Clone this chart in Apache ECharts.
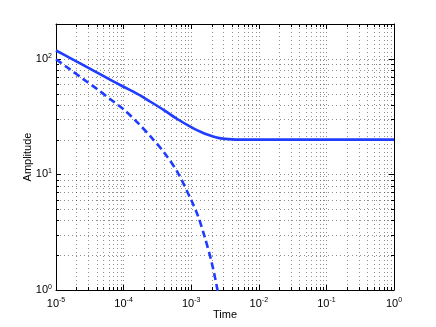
<!doctype html>
<html>
<head>
    <title>Amplitude vs Time</title>
    <script src="https://cdn.jsdelivr.net/npm/echarts@6/dist/echarts.min.js"></script>
</head>
<body style="margin:0;">
<div id="chart" style="width: 436px; height: 327px;"></div>
<script type="text/javascript">

    // time samples (log spaced)
    var times = [1e-5, 1.6e-5, 2.5e-5, 4e-5, 6.3e-5, 1e-4, 1.6e-4, 2.5e-4, 4e-4, 6.3e-4,
                 1e-3, 1.26e-3, 1.6e-3, 2e-3, 2.5e-3, 3.2e-3, 4e-3, 5e-3, 6.3e-3,
                 1e-2, 1e-1, 1];
    // solid curve
    var total = [118, 101.8, 88.5, 76.4, 66, 57.3, 49.7, 42.5, 35.8, 30,
                 25.6, 23.9, 22.5, 21.5, 20.7, 20.3, 20.1, 20, 20,
                 20, 20, 20];
    // dashed curve (drops out below the axis)
    var transient = [99, 81.3, 67.1, 55, 44.9, 36.5, 28.2, 21.3, 15.4, 10.4,
                     6.0, 4.37, 2.82, 1.75, 0.94, 0.4, null, null, null,
                     null, null, null];
    var minorSteps = [2, 3, 4, 5, 6, 7, 8, 9];
    var xDecades = [-5, -4, -3, -2, -1];
    var yDecades = [0, 1];

    var font = 'Liberation Sans';
    var blue = '#1f3cff';

    function pairs(xs, ys) {
        var out = [];
        for (var i = 0; i < xs.length; i++) {
            if (ys[i] != null) out.push([xs[i], ys[i]]);
        }
        return out;
    }

    // minor grid: [x, y, kind]  kind 0 = vertical line, 1 = horizontal line
    var minorData = [];
    xDecades.forEach(function (e) {
        minorSteps.forEach(function (k) { minorData.push([k * Math.pow(10, e), 1, 0]); });
    });
    yDecades.forEach(function (e) {
        minorSteps.forEach(function (k) { minorData.push([1e-5, k * Math.pow(10, e), 1]); });
    });
    minorData.push([1e-5, 200, 2]); // nothing drawn, top border

    function powLabel(v) {
        var e = Math.round(Math.log10(v));
        if (Math.abs(Math.pow(10, e) - v) > 1e-9 * v) return '';
        return '{b|10}{s|' + e + '}';
    }

    var labelRich = {
        b: {fontSize: 11, fontFamily: font, color: '#000'},
        s: {fontSize: 7, fontFamily: font, color: '#000', padding: [0, 0, 6, 0]}
    };

    var dotted = {color: '#444', width: 1, type: [1, 3], opacity: 0.6};

    function renderMinor(params, api) {
        var cs = params.coordSys;
        var kind = api.value(2);
        var p = api.coord([api.value(0), api.value(1)]);
        var children = [];
        var dotStyle = {stroke: dotted.color, lineWidth: 1, lineDash: dotted.type, opacity: dotted.opacity};
        var tickStyle = {stroke: '#000', lineWidth: 1};
        if (kind === 0) {
            var x = Math.round(p[0]) + 0.5;
            children.push({type: 'line', shape: {x1: x, y1: cs.y, x2: x, y2: cs.y + cs.height}, style: dotStyle});
            children.push({type: 'line', shape: {x1: x, y1: cs.y + cs.height, x2: x, y2: cs.y + cs.height - 3}, style: tickStyle});
            children.push({type: 'line', shape: {x1: x, y1: cs.y, x2: x, y2: cs.y + 3}, style: tickStyle});
        } else if (kind === 1) {
            var y = Math.round(p[1]) + 0.5;
            children.push({type: 'line', shape: {x1: cs.x, y1: y, x2: cs.x + cs.width, y2: y}, style: dotStyle});
            children.push({type: 'line', shape: {x1: cs.x, y1: y, x2: cs.x + 3, y2: y}, style: tickStyle});
            children.push({type: 'line', shape: {x1: cs.x + cs.width, y1: y, x2: cs.x + cs.width - 3, y2: y}, style: tickStyle});
        }
        return {type: 'group', children: children};
    }

    var myChart = echarts.init(document.getElementById('chart'));
    var option = {
        animation: false,
        backgroundColor: '#fff',
        grid: {left: 56, right: 42, top: 24, bottom: 37, containLabel: false, outerBoundsMode: 'none'},
        xAxis: [{
            type: 'log',
            logBase: 10,
            min: 1e-5,
            max: 1,
            name: 'Time',
            nameLocation: 'middle',
            nameGap: 15,
            nameMoveOverlap: false,
            nameTextStyle: {fontFamily: font, fontSize: 11, color: '#000'},
            axisLine: {lineStyle: {color: '#000', width: 1}},
            axisTick: {inside: true, length: 5, lineStyle: {color: '#000'}},
            axisLabel: {formatter: powLabel, rich: labelRich, margin: 4},
            splitLine: {show: true, lineStyle: dotted}
        }, {
            type: 'log',
            logBase: 10,
            min: 1e-5,
            max: 1,
            position: 'top',
            axisLine: {lineStyle: {color: '#000', width: 1}},
            axisTick: {inside: true, length: 5, lineStyle: {color: '#000'}},
            axisLabel: {show: false},
            splitLine: {show: false}
        }],
        yAxis: [{
            type: 'log',
            logBase: 10,
            min: 1,
            max: 200,
            name: 'Amplitude',
            nameLocation: 'middle',
            nameGap: 19,
            nameMoveOverlap: false,
            nameTextStyle: {fontFamily: font, fontSize: 11, color: '#000'},
            axisLine: {lineStyle: {color: '#000', width: 1}},
            axisTick: {inside: true, length: 5, lineStyle: {color: '#000'}},
            axisLabel: {formatter: powLabel, rich: labelRich, margin: 4, showMaxLabel: false},
            splitLine: {show: true, lineStyle: dotted}
        }, {
            type: 'log',
            logBase: 10,
            min: 1,
            max: 200,
            position: 'right',
            axisLine: {lineStyle: {color: '#000', width: 1}},
            axisTick: {inside: true, length: 5, lineStyle: {color: '#000'}},
            axisLabel: {show: false},
            splitLine: {show: false}
        }],
        series: [{
            name: 'minor grid',
            type: 'custom',
            silent: true,
            clip: false,
            renderItem: renderMinor,
            encode: {x: 0, y: 1},
            data: minorData,
            z: 1
        }, {
            name: 'total',
            type: 'line',
            data: pairs(times, total),
            smooth: 0.3,
            showSymbol: false,
            lineStyle: {color: blue, width: 2.6},
            z: 3
        }, {
            name: 'transient',
            type: 'line',
            data: pairs(times, transient),
            smooth: 0.3,
            showSymbol: false,
            clip: true,
            lineStyle: {color: blue, width: 2.6, type: [7, 4]},
            z: 3
        }]
    };
    myChart.setOption(option);

</script>
</body>
</html>
